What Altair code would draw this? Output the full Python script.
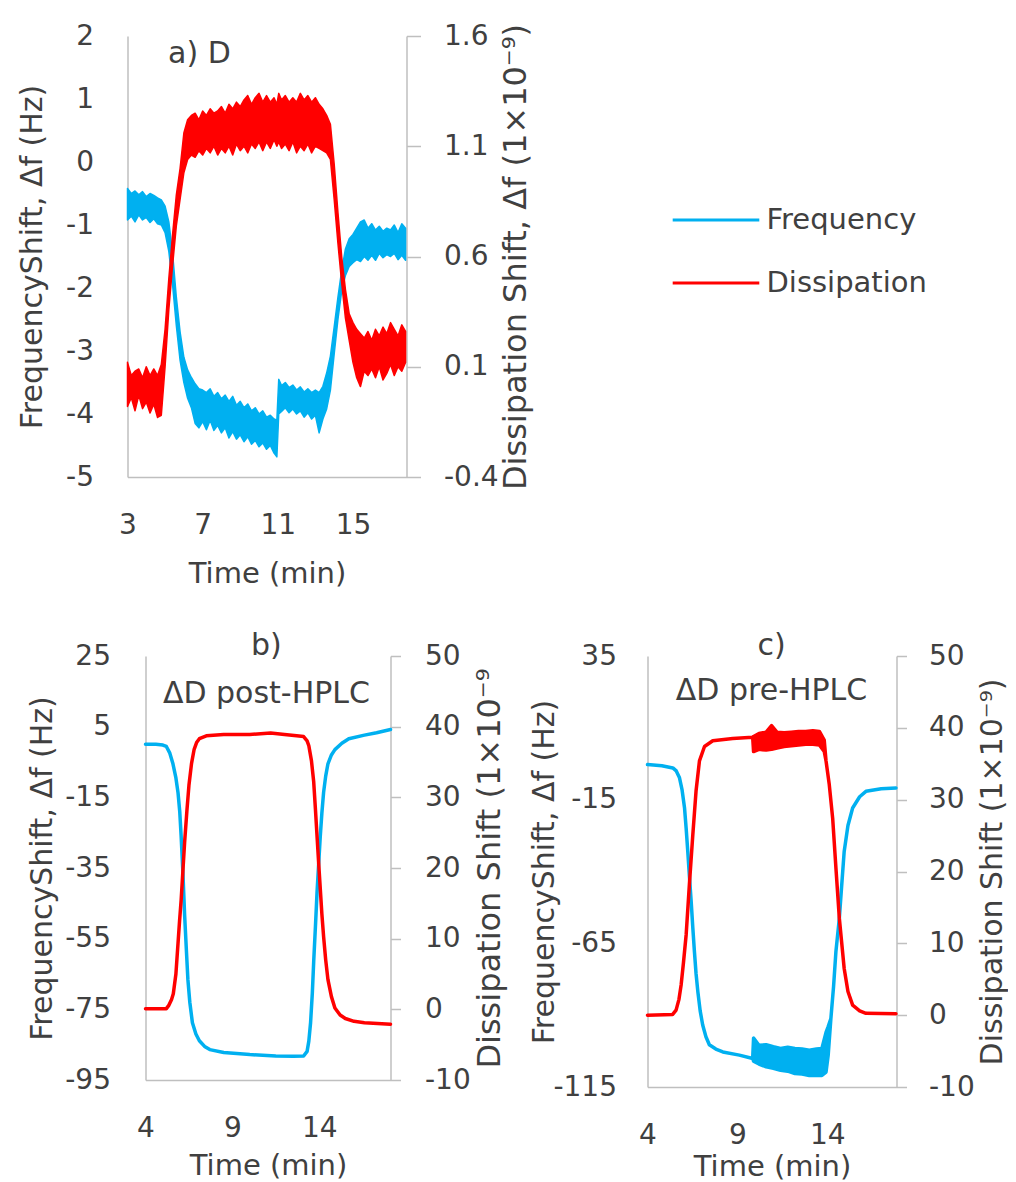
import altair as alt
import pandas as pd

FONT = "DejaVu Sans"
INK = "#404040"
AXC = "#bfbfbf"
SERIES = ["Frequency", "Dissipation"]
COLORS = ["#00B0F0", "#FF0000"]

# ---------------- panel a) D  (noisy traces: lower / upper edge of the trace) ----------------
A_T = [3.0, 3.2, 3.4, 3.6, 3.8, 4.0, 4.2, 4.4, 4.6, 4.8,
       5.0, 5.2, 5.4, 5.6, 5.8, 6.0, 6.2, 6.4, 6.6, 6.8,
       7.0, 7.2, 7.4, 7.6, 7.8, 8.0, 8.2, 8.4, 8.6, 8.8,
       9.0, 9.2, 9.4, 9.6, 9.8, 10.0, 10.2, 10.4, 10.6, 10.8,
       10.95, 11.05, 11.2, 11.4, 11.6, 11.8, 12.0, 12.2, 12.4, 12.6,
       12.8, 13.0, 13.2, 13.4, 13.6, 13.8, 14.0, 14.2, 14.4, 14.6,
       14.8, 15.0, 15.2, 15.4, 15.6, 15.8, 16.0, 16.2, 16.4, 16.6,
       16.8, 17.0, 17.2, 17.4, 17.6, 17.8]
A_FREQ_LO = [-0.92, -0.86, -0.95, -0.84, -0.92, -0.88, -0.96, -0.90, -0.98, -1.00,
             -1.12, -1.42, -1.95, -2.60, -3.15, -3.50, -3.75, -3.90, -4.15, -4.22,
             -4.12, -4.25, -4.10, -4.26, -4.18, -4.30, -4.22, -4.38, -4.28, -4.40,
             -4.33, -4.44, -4.36, -4.48, -4.42, -4.52, -4.46, -4.56, -4.50, -4.62,
             -4.68, -4.00, -3.96, -3.90, -3.98, -3.92, -4.00, -3.95, -4.05, -3.98,
             -4.08, -4.02, -4.30, -4.08, -3.92, -3.62, -3.05, -2.50, -2.05, -1.80,
             -1.66, -1.60, -1.55, -1.58, -1.50, -1.56, -1.48, -1.56, -1.45, -1.52,
             -1.47, -1.50, -1.45, -1.55, -1.48, -1.56]
A_FREQ_HI = [-0.42, -0.50, -0.46, -0.52, -0.47, -0.55, -0.50, -0.53, -0.57, -0.60,
             -0.70, -0.95, -1.45, -2.15, -2.70, -3.10, -3.30, -3.42, -3.52, -3.60,
             -3.62, -3.66, -3.60, -3.72, -3.66, -3.76, -3.70, -3.80, -3.72, -3.86,
             -3.80, -3.90, -3.84, -3.95, -3.90, -4.00, -3.95, -4.05, -4.02, -4.08,
             -4.10, -3.45, -3.55, -3.50, -3.58, -3.54, -3.62, -3.57, -3.65, -3.60,
             -3.66, -3.62, -3.66, -3.56, -3.35, -3.08, -2.62, -2.15, -1.72, -1.38,
             -1.22, -1.15, -1.05, -0.95, -0.92, -1.05, -0.98, -1.08, -1.02, -1.10,
             -1.05, -1.08, -1.00, -1.12, -0.98, -1.05]
A_DISS_LO = [-0.08, -0.04, -0.10, -0.03, -0.09, -0.06, -0.11, -0.07, -0.13, -0.12,
             0.10, 0.36, 0.56, 0.74, 0.86, 0.98, 1.04, 1.06, 1.05, 1.08,
             1.06, 1.09, 1.07, 1.10, 1.06, 1.09, 1.07, 1.10, 1.06, 1.11,
             1.08, 1.10, 1.07, 1.11, 1.09, 1.12, 1.08, 1.12, 1.09, 1.13,
             1.10, 1.12, 1.09, 1.11, 1.08, 1.12, 1.07, 1.10, 1.08, 1.11,
             1.07, 1.10, 1.09, 1.08, 1.07, 1.04, 0.86, 0.66, 0.48, 0.32,
             0.22, 0.12, 0.05, 0.01, 0.08, 0.06, 0.09, 0.05, 0.10, 0.04,
             0.07, 0.11, 0.06, 0.10, 0.08, 0.12]
A_DISS_HI = [0.12, 0.06, 0.08, 0.09, 0.05, 0.10, 0.06, 0.09, 0.06, 0.11,
             0.27, 0.50, 0.70, 0.88, 1.00, 1.16, 1.22, 1.24, 1.25, 1.22,
             1.26, 1.24, 1.27, 1.25, 1.26, 1.28, 1.25, 1.29, 1.27, 1.30,
             1.28, 1.31, 1.33, 1.29, 1.32, 1.34, 1.30, 1.33, 1.30, 1.32,
             1.29, 1.34, 1.31, 1.33, 1.30, 1.32, 1.30, 1.34, 1.31, 1.33,
             1.30, 1.32, 1.29, 1.27, 1.24, 1.20, 1.02, 0.80, 0.60, 0.45,
             0.34, 0.30, 0.27, 0.25, 0.23, 0.26, 0.22, 0.27, 0.24, 0.28,
             0.25, 0.30, 0.27, 0.24, 0.29, 0.26]

# ---------------- panel b) ΔD post-HPLC ----------------
B_FREQ_T = [4.0, 4.6, 5.0, 5.2, 5.4, 5.58, 5.75, 5.87, 5.97, 6.05,
            6.15, 6.25, 6.35, 6.44, 6.55, 6.7, 6.9, 7.1, 7.4, 7.7,
            8.5, 10.0, 11.5, 12.5, 13.1, 13.3, 13.4, 13.5, 13.6, 13.68,
            13.78, 13.87, 13.97, 14.06, 14.15, 14.25, 14.37, 14.5, 14.7, 14.9,
            15.3, 15.7, 16.6, 17.3, 18.1]
B_FREQ = [0.0, 0.0, -0.2, -0.6, -2.5, -5.5, -9.5, -13.6, -19.0, -25.9,
          -36.0, -48.2, -58.0, -66.6, -73.0, -78.8, -82.0, -83.9, -85.5, -86.4,
          -87.2, -87.8, -88.2, -88.3, -88.2, -86.9, -84.0, -78.8, -70.5, -61.5,
          -51.5, -42.1, -33.5, -25.9, -19.5, -13.6, -9.0, -5.5, -3.0, -1.5,
          0.3, 1.6, 2.6, 3.3, 4.2]
B_DISS_T = [4.0, 5.2, 5.35, 5.5, 5.6, 5.75, 5.87, 5.96, 6.05, 6.15,
            6.25, 6.38, 6.5, 6.65, 6.8, 6.95, 7.1, 7.5, 8.5, 10.0,
            11.2, 12.0, 12.7, 13.1, 13.3, 13.4, 13.55, 13.68, 13.78, 13.87,
            13.97, 14.06, 14.15, 14.25, 14.37, 14.5, 14.7, 14.9, 15.2, 15.5,
            16.0, 16.6, 18.1]
B_DISS = [0.1, 0.1, 0.6, 1.4, 2.2, 5.0, 9.3, 12.5, 15.4, 19.5,
          23.6, 28.0, 31.7, 34.8, 36.8, 37.8, 38.3, 38.7, 38.9, 38.9,
          39.1, 38.9, 38.7, 38.6, 38.0, 37.3, 35.2, 32.2, 28.3, 24.6,
          20.5, 17.0, 13.5, 10.3, 7.0, 4.2, 1.8, 0.2, -0.8, -1.3,
          -1.7, -1.9, -2.1]

# ---------------- panel c) ΔD pre-HPLC (noisy stretch given as lower / upper edge) ----------------
C_FREQ_T = [4.0, 4.8, 5.41, 5.6, 5.78, 5.92, 6.06, 6.15, 6.24, 6.33,
            6.43, 6.52, 6.61, 6.7, 6.8, 6.93, 7.07, 7.25, 7.44, 7.8,
            8.19, 9.11, 9.85, 9.9, 10.2, 10.6, 11.0, 11.4, 11.8, 12.2,
            12.6, 13.0, 13.4, 13.7, 13.93, 14.05, 14.2, 14.35, 14.48, 14.67,
            14.8, 14.94, 15.15, 15.41, 15.8, 16.15, 17.0, 17.82]
C_FREQ_LO = [-2.8, -3.2, -3.95, -5.0, -7.4, -11.5, -17.9, -25.0, -33.0, -41.5,
             -50.5, -59.5, -67.9, -75.5, -81.8, -88.5, -93.4, -97.5, -100.3, -101.8,
             -102.8, -103.9, -105.1, -106.0, -107.0, -108.0, -108.5, -109.2, -109.5, -110.3,
             -110.5, -111.0, -111.0, -111.0, -109.8, -104.0, -91.2, -80.0, -67.9, -56.3,
             -45.0, -33.0, -24.0, -17.9, -14.0, -12.1, -11.2, -10.9]
C_FREQ_HI = [-2.8, -3.2, -3.95, -5.0, -7.4, -11.5, -17.9, -25.0, -33.0, -41.5,
             -50.5, -59.5, -67.9, -75.5, -81.8, -88.5, -93.4, -97.5, -100.3, -101.8,
             -102.8, -103.9, -105.1, -98.0, -100.5, -100.3, -101.0, -101.6, -101.2, -101.6,
             -101.8, -102.2, -101.8, -101.6, -96.0, -94.0, -91.2, -80.0, -67.9, -56.3,
             -45.0, -33.0, -24.0, -17.9, -14.0, -12.1, -11.2, -10.9]
C_DISS_T = [4.0, 5.4, 5.59, 5.75, 5.87, 6.0, 6.15, 6.33, 6.52, 6.7,
            6.89, 7.17, 7.63, 8.74, 9.85, 9.9, 10.2, 10.6, 10.9, 11.2,
            11.6, 12.0, 12.4, 12.8, 13.2, 13.56, 13.83, 13.93, 14.11, 14.3,
            14.48, 14.67, 14.94, 15.15, 15.41, 15.8, 16.15, 17.82]
C_DISS_LO = [0.0, 0.1, 0.7, 2.2, 4.2, 7.3, 11.2, 18.2, 25.1, 31.2,
             35.4, 37.4, 38.2, 38.5, 38.7, 36.7, 37.0, 36.9, 37.0, 37.2,
             37.4, 37.5, 37.6, 37.7, 37.7, 37.6, 36.7, 35.4, 32.1, 27.4,
             20.5, 13.5, 6.5, 3.3, 1.4, 0.6, 0.25, 0.2]
C_DISS_HI = [0.0, 0.1, 0.7, 2.2, 4.2, 7.3, 11.2, 18.2, 25.1, 31.2,
             35.4, 37.4, 38.2, 38.5, 38.7, 38.8, 39.2, 39.4, 40.3, 39.4,
             39.3, 39.4, 39.5, 39.5, 39.6, 39.5, 38.3, 35.4, 32.1, 27.4,
             20.5, 13.5, 6.5, 3.3, 1.4, 0.6, 0.25, 0.2]

# ---------------- panel captions (text, time, frequency-axis value) ----------------
A_NOTE_TEXT = ["a) D"]
A_NOTE_T = [6.83]
A_NOTE_V = [1.71]
B_NOTE_TEXT = ["b)", "ΔD post-HPLC"]
B_NOTE_T = [10.96, 10.96]
B_NOTE_V = [27.8, 14.2]
C_NOTE_TEXT = ["c)", "ΔD pre-HPLC"]
C_NOTE_T = [10.9, 10.9]
C_NOTE_V = [38.5, 22.8]

# ---------------- tick values ----------------
A_X_TICKS = [3, 7, 11, 15]
A_F_TICKS = [-5, -4, -3, -2, -1, 0, 1, 2]
A_D_TICKS = [-0.4, 0.1, 0.6, 1.1, 1.6]
BC_X_TICKS = [4, 9, 14]
B_F_TICKS = [-95, -75, -55, -35, -15, 5, 25]
C_F_TICKS = [-115, -65, -15, 35]
BC_D_TICKS = [-10, 0, 10, 20, 30, 40, 50]

FREQ_TITLE = "FrequencyShift, Δf (Hz)"


def band(t, lo, hi, name):
    return pd.DataFrame({"t": t, "lo": lo, "hi": hi, "series": name})


def notes(text, t, v):
    return pd.DataFrame({"label": text, "t": t, "v": v})


LABEL_EXPR = "'' + datum.value"
TXT = dict(labelColor=INK, titleColor=INK, titleFontWeight="normal", labelFontSize=28,
           titleFontSize=30, grid=False, domainColor=AXC, domainWidth=1.5, labelExpr=LABEL_EXPR)


def left_axis(values, lp, tp):
    return alt.Axis(values=values, title=FREQ_TITLE, orient="left", ticks=False, tickSize=0,
                    labelPadding=lp, titlePadding=tp, labelFlush=False, **TXT)


def panel(freq, diss, note, w, h, xdom, xticks, xlp, xtp,
          fdom, laxis, ddom, dticks, dts, dlp, dtp, dtitle, dtfs, sw, legend):
    cs = alt.Scale(domain=SERIES, range=COLORS)
    xaxis = alt.Axis(values=xticks, title="Time (min)", ticks=False, tickSize=0,
                     labelPadding=xlp, titlePadding=xtp, labelFlush=False,
                     **{**TXT, "titleFontSize": 29})
    x = alt.X("t:Q", scale=alt.Scale(domain=xdom, nice=False, zero=False), axis=xaxis)
    raxis = alt.Axis(values=dticks, title=dtitle, orient="right", ticks=True, tickSize=dts,
                     tickColor=AXC, tickWidth=1.5, labelPadding=dlp, titlePadding=dtp,
                     labelFlush=False, titleAngle=270, titleBaseline="top",
                     **{**TXT, "titleFontSize": dtfs})

    def layer(df, ydom, yaxis):
        return alt.Chart(df).mark_area(strokeWidth=sw, fillOpacity=1, strokeJoin="round").encode(
            x=x,
            y=alt.Y("lo:Q", scale=alt.Scale(domain=ydom, nice=False, zero=False), axis=yaxis),
            y2="hi:Q",
            fill=alt.Fill("series:N", scale=cs, legend=legend),
            stroke=alt.Stroke("series:N", scale=cs, legend=legend),
        )

    caption = alt.Chart(note).mark_text(font=FONT, fontSize=30, color=INK, align="center",
                                        baseline="middle").encode(
        x=x,
        y=alt.Y("v:Q", scale=alt.Scale(domain=fdom, nice=False, zero=False), axis=None),
        text="label:N",
    )
    return alt.layer(layer(freq, fdom, laxis), layer(diss, ddom, raxis), caption).resolve_scale(
        y="independent").properties(width=w, height=h)


legend_a = alt.Legend(title=None, orient="none", legendX=574, legendY=169.5, direction="vertical",
                      symbolType="M-5,0H5", symbolSize=300, symbolStrokeWidth=3,
                      labelFont=FONT, labelFontSize=29, labelColor=INK, labelOffset=36,
                      labelLimit=400, rowPadding=33, padding=0)

pa = panel(band(A_T, A_FREQ_LO, A_FREQ_HI, "Frequency"),
           band(A_T, A_DISS_LO, A_DISS_HI, "Dissipation"),
           notes(A_NOTE_TEXT, A_NOTE_T, A_NOTE_V),
           279, 441, [3, 17.85], A_X_TICKS, 34, 20,
           [-5, 2], left_axis(A_F_TICKS, 34, 18.5),
           [-0.4, 1.6], A_D_TICKS, 14, 23, 2.5, "Dissipation Shift, Δf (1×10⁻⁹)", 32,
           1.5, legend_a)

# panel b: its left tick labels and title sit in a narrow companion view, the plot keeps the axis line
b_axis_holder = alt.Chart(band(B_FREQ_T, B_FREQ, B_FREQ, "Frequency")).mark_point(opacity=0).encode(
    y=alt.Y("lo:Q", scale=alt.Scale(domain=[-95, 25], nice=False, zero=False),
            axis=alt.Axis(values=B_F_TICKS, title=FREQ_TITLE, orient="left", domain=False,
                          ticks=False, tickSize=0, labelPadding=17, titlePadding=6.8,
                          labelFlush=False, **TXT))
).properties(width=9, height=424)

pb = panel(band(B_FREQ_T, B_FREQ, B_FREQ, "Frequency"),
           band(B_DISS_T, B_DISS, B_DISS, "Dissipation"),
           notes(B_NOTE_TEXT, B_NOTE_T, B_NOTE_V),
           245, 424, [4, 18.1], BC_X_TICKS, 34, 9,
           [-95, 25], alt.Axis(orient="left", labels=False, ticks=False, tickSize=0, title=None,
                               grid=False, domainColor=AXC, domainWidth=1.5),
           [-10, 50], BC_D_TICKS, 10, 24, 4, "Dissipation Shift (1×10⁻⁹", 32,
           3.5, None)

pc = panel(band(C_FREQ_T, C_FREQ_LO, C_FREQ_HI, "Frequency"),
           band(C_DISS_T, C_DISS_LO, C_DISS_HI, "Dissipation"),
           notes(C_NOTE_TEXT, C_NOTE_T, C_NOTE_V),
           249, 431, [4, 17.85], BC_X_TICKS, 34, 3,
           [-115, 35], left_axis(C_F_TICKS, 31, -6.5),
           [-10, 50], BC_D_TICKS, 10, 22, 3, "Dissipation Shift  (1×10⁻⁹)", 30,
           3.5, None)

row_b = alt.hconcat(b_axis_holder, pb, spacing=0)
chart = alt.concat(pa, alt.hconcat(row_b, pc, spacing=23), columns=1, spacing=42).resolve_scale(
    fill="independent", stroke="independent").resolve_legend(
    fill="independent", stroke="independent").properties(
    padding={"left": 8.5, "top": 14, "right": 0, "bottom": 0}).configure(
    font=FONT).configure_view(stroke=None).configure_axis(labelFont=FONT, titleFont=FONT)

chart.save("out.html", embed_options={"renderer": "svg", "actions": False})
